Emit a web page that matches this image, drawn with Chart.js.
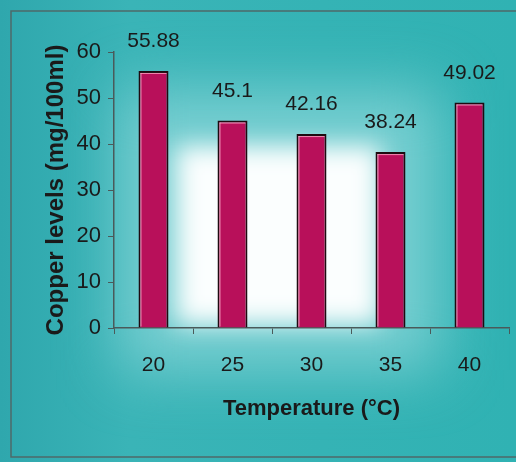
<!DOCTYPE html>
<html>
<head>
<meta charset="utf-8">
<script src="https://cdn.jsdelivr.net/npm/chart.js@4/dist/chart.umd.min.js"></script>
<style>
  html, body { margin: 0; padding: 0; background: #33b2b5; }
  #wrap { width: 516px; height: 462px; position: relative; }
</style>
</head>
<body>
<div id="wrap"><canvas id="myChart"></canvas></div>
<script>
// data
var temperatures = ["20", "25", "30", "35", "40"];
var copperLevels = [55.88, 45.1, 42.16, 38.24, 49.02];
var copperLabels = ["55.88", "45.1", "42.16", "38.24", "49.02"];
var yTicks = [0, 10, 20, 30, 40, 50, 60];

var textColor = "#1a1a1a";
var fontFam = "'Liberation Sans', Arial, sans-serif";

// teal background with the washed out white centre + frame
var backgroundPlugin = {
  id: "bgPaint",
  beforeDraw: function (chart) {
    var ctx = chart.ctx;
    var w = chart.width, h = chart.height;
    ctx.save();
    var lin = ctx.createLinearGradient(0, 0, w, 0);
    lin.addColorStop(0, "#2fa7ad");
    lin.addColorStop(0.25, "#3ab4b7");
    lin.addColorStop(1, "#30b2b3");
    ctx.fillStyle = lin;
    ctx.fillRect(0, 0, w, h);

    // soft lighter halo
    ctx.filter = "blur(30px)";
    ctx.fillStyle = "rgba(150, 220, 222, 0.7)";
    ctx.fillRect(120, 90, 320, 280);
    // white patch in the middle
    ctx.filter = "blur(12px)";
    ctx.fillStyle = "rgba(255,255,255,0.97)";
    ctx.fillRect(176, 146, 204, 178);
    ctx.filter = "none";
    ctx.restore();

    // frame
    ctx.save();
    ctx.strokeStyle = "#4d6a6a";
    ctx.lineWidth = 1.5;
    ctx.beginPath();
    ctx.moveTo(w, 11);
    ctx.lineTo(11, 11);
    ctx.lineTo(11, 457);
    ctx.lineTo(w, 457);
    ctx.stroke();
    ctx.restore();
  }
};

// value labels over each bar, plus the light inner edge of the bars
var valueLabelPlugin = {
  id: "valueLabels",
  afterDatasetsDraw: function (chart) {
    var ctx = chart.ctx;
    var meta = chart.getDatasetMeta(0);
    ctx.save();
    meta.data.forEach(function (bar) {
      var left = bar.x - bar.width / 2;
      ctx.strokeStyle = "rgba(255, 170, 200, 0.8)";
      ctx.lineWidth = 1;
      ctx.beginPath();
      ctx.moveTo(left + 2.5, bar.y + 2);
      ctx.lineTo(left + 2.5, bar.base - 1);
      ctx.moveTo(left + 2, bar.y + 2.5);
      ctx.lineTo(left + bar.width - 2, bar.y + 2.5);
      ctx.stroke();
    });
    ctx.font = "21px " + fontFam;
    ctx.fillStyle = textColor;
    ctx.textAlign = "center";
    ctx.textBaseline = "bottom";
    meta.data.forEach(function (bar, i) {
      ctx.fillText(copperLabels[i], bar.x, bar.y - 19);
    });
    ctx.restore();
  }
};

var ctx = document.getElementById("myChart");
var myChart = new Chart(ctx, {
  type: "bar",
  data: {
    labels: temperatures,
    datasets: [{
      label: "Copper levels",
      data: copperLevels,
      backgroundColor: "#b8105a",
      borderColor: "#1e0a10",
      borderWidth: 2,
      borderSkipped: "bottom",
      categoryPercentage: 1,
      barPercentage: 0.38
    }]
  },
  options: {
    responsive: true,
    maintainAspectRatio: false,
    animation: false,
    layout: { padding: { top: 52, right: 7, left: 0, bottom: 0 } },
    plugins: {
      legend: { display: false },
      tooltip: { enabled: false }
    },
    scales: {
      x: {
        afterFit: function (scale) { scale.height = 134; },
        grid: {
          offset: true,
          drawOnChartArea: false,
          drawTicks: true,
          tickLength: 6,
          color: "#4a5a5a"
        },
        border: { color: "#4a5a5a", width: 1.5 },
        ticks: {
          color: textColor,
          padding: 19,
          font: { family: fontFam, size: 21 }
        },
        title: {
          display: true,
          text: "Temperature (°C)",
          color: textColor,
          padding: { top: 0, bottom: 40 },
          font: { family: fontFam, size: 22, weight: "bold" }
        }
      },
      y: {
        min: 0,
        max: 60,
        afterFit: function (scale) { scale.width = 114; },
        afterBuildTicks: function (scale) {
          scale.ticks = yTicks.map(function (v) { return { value: v }; });
        },
        grid: {
          drawOnChartArea: false,
          drawTicks: true,
          tickLength: 6,
          color: "#4a5a5a"
        },
        border: { color: "#4a5a5a", width: 1.5 },
        ticks: {
          color: textColor,
          padding: 7,
          font: { family: fontFam, size: 22 }
        },
        title: {
          display: true,
          text: "Copper levels (mg/100ml)",
          color: textColor,
          padding: { top: 42, bottom: 0 },
          font: { family: fontFam, size: 24, weight: "bold" }
        }
      }
    }
  },
  plugins: [backgroundPlugin, valueLabelPlugin]
});
</script>
</body>
</html>
